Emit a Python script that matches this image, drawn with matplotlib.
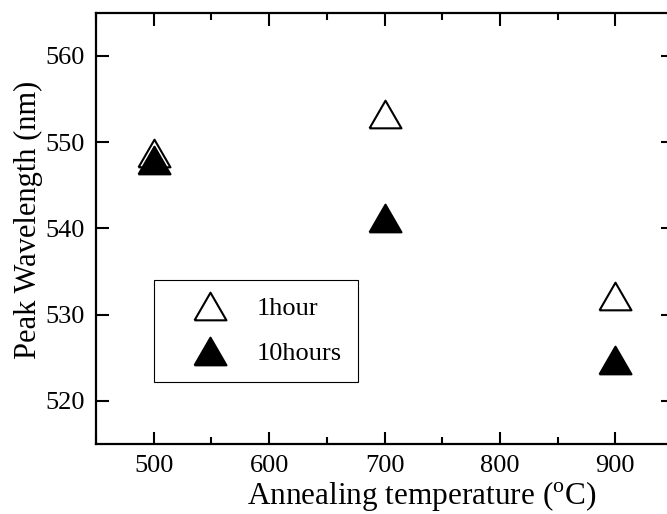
import matplotlib
matplotlib.use("Agg")
import matplotlib.pyplot as plt
from matplotlib.ticker import MultipleLocator

plt.rcParams["font.family"] = ["Liberation Serif", "DejaVu Serif"]
plt.rcParams["mathtext.fontset"] = "custom"
plt.rcParams["mathtext.rm"] = "Liberation Serif"

temps = [500, 700, 900]
peak_1h = [548.8, 553.3, 532.2]
peak_10h = [547.9, 541.2, 524.7]

# equilateral triangle, centred on its bounding box
TRI = [(-1.0, -0.866), (1.0, -0.866), (0.0, 0.866), (-1.0, -0.866)]


def main():
    fig = plt.figure(figsize=(6.67, 5.14), dpi=100)
    ax = fig.add_axes([0.144, 0.136, 0.865, 0.839])

    ax.plot(temps, peak_1h, linestyle="none", marker=TRI, markersize=23,
            markerfacecolor="white", markeredgecolor="black", markeredgewidth=1.5,
            label="1hour")
    ax.plot(temps, peak_10h, linestyle="none", marker=TRI, markersize=23,
            markerfacecolor="black", markeredgecolor="black", markeredgewidth=1.5,
            label="10hours")

    ax.set_xlim(450, 950)
    ax.set_ylim(515, 565)
    ax.xaxis.set_major_locator(MultipleLocator(100))
    ax.xaxis.set_minor_locator(MultipleLocator(50))
    ax.yaxis.set_major_locator(MultipleLocator(10))

    ax.tick_params(which="both", direction="in", top=True, right=True,
                   width=1.5, labelsize=19, pad=8)
    ax.tick_params(which="major", length=9)
    ax.tick_params(which="minor", length=5)
    for s in ax.spines.values():
        s.set_linewidth(1.6)

    ax.set_xlabel(r"Annealing temperature ($^{\rm o}$C)", fontsize=22.5)
    ax.set_ylabel("Peak Wavelength (nm)", fontsize=22)
    ax.xaxis.set_label_coords(0.565, -0.080)
    ax.yaxis.set_label_coords(-0.092, 0.519)

    leg = ax.legend(loc="upper left", bbox_to_anchor=(0.1005, 0.14, 0.354, 0.24),
                    mode="expand", fancybox=False, framealpha=1, edgecolor="black",
                    fontsize=19, handlelength=3.0, handletextpad=0.27,
                    borderpad=0.62, labelspacing=0.82, borderaxespad=0)
    leg.get_frame().set_linewidth(0.8)

    fig.savefig("out.png", dpi=100)


if __name__ == "__main__":
    main()
